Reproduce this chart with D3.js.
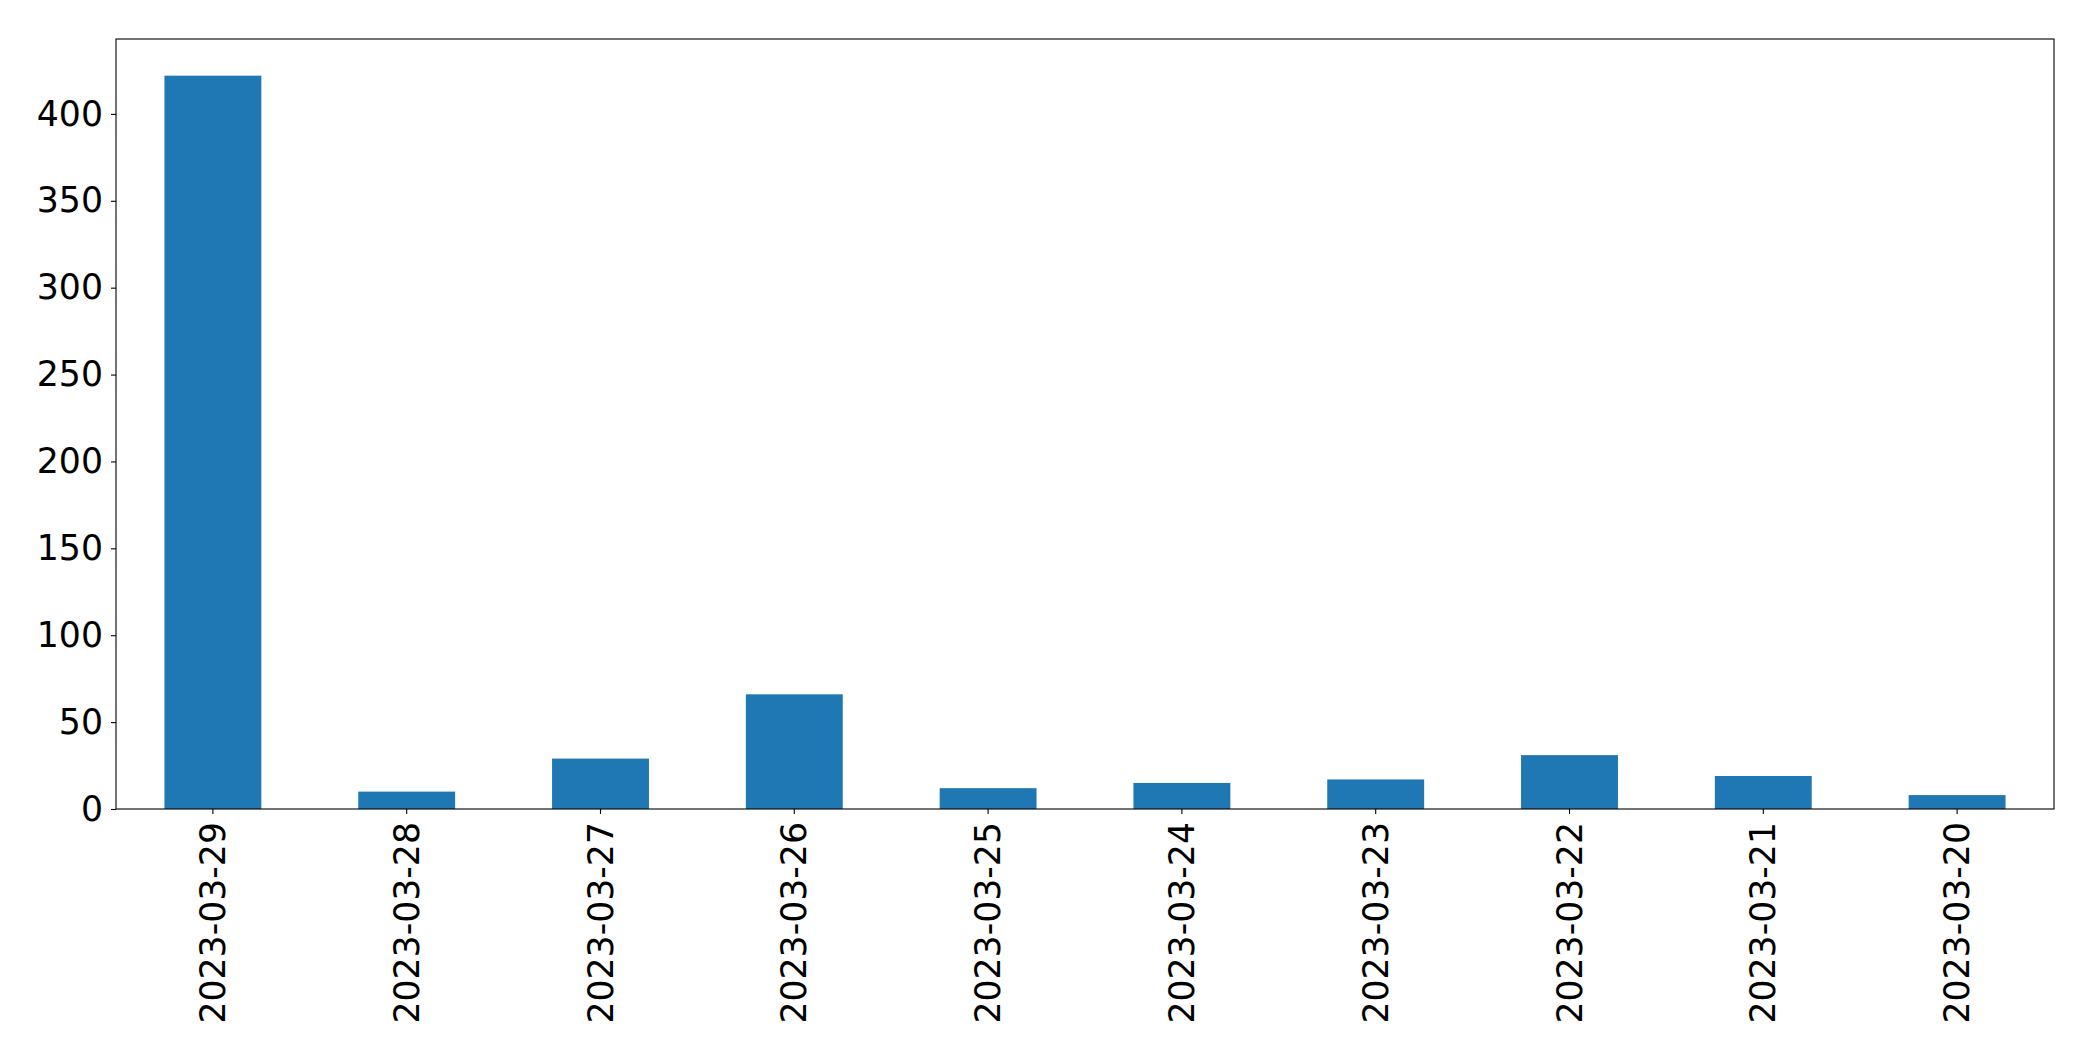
<!DOCTYPE html>
<html>
<head>
<meta charset="utf-8">
<script src="https://cdn.jsdelivr.net/npm/d3@7"></script>
<style>
  html, body { margin: 0; padding: 0; background: #fff; }
  svg { display: block; }
  .tick text { font-family: "DejaVu Sans", sans-serif; fill: #000; }
</style>
</head>
<body>
<svg id="chart" width="2093" height="1061"></svg>
<script>
const categories = ["2023-03-29","2023-03-28","2023-03-27","2023-03-26","2023-03-25","2023-03-24","2023-03-23","2023-03-22","2023-03-21","2023-03-20"];
const values = [422, 10, 29, 66, 12, 15, 17, 31, 19, 8];
const yTicks = [0, 50, 100, 150, 200, 250, 300, 350, 400];

const W = 2093, H = 1061;
const margin = {left: 116, right: W - 2054, top: 39, bottom: H - 809};
const iw = W - margin.left - margin.right;
const ih = H - margin.top - margin.bottom;
const fontSize = 34.7;

const svg = d3.select("#chart");
const g = svg.append("g").attr("transform", `translate(${margin.left},${margin.top})`);

const x = d3.scaleBand().domain(categories).range([0, iw]).paddingInner(0.5).paddingOuter(0.25);
const y = d3.scaleLinear().domain([0, d3.max(values) * 1.05]).range([ih, 0]);

g.selectAll("rect.bar").data(values).enter().append("rect")
  .attr("class", "bar")
  .attr("x", (d, i) => x(categories[i]))
  .attr("width", x.bandwidth())
  .attr("y", d => y(d))
  .attr("height", d => ih - y(d))
  .attr("fill", "#1f77b4");

const yAxis = g.append("g")
  .call(d3.axisLeft(y).tickValues(yTicks).tickSize(5).tickPadding(8).tickFormat(d3.format("d")));
yAxis.selectAll("text").style("font-size", fontSize + "px");
yAxis.select(".domain").remove();
yAxis.selectAll("line").attr("stroke", "#000").attr("stroke-width", 1.1);

const xAxis = g.append("g").attr("transform", `translate(0,${ih})`)
  .call(d3.axisBottom(x).tickSize(5).tickPadding(0));
xAxis.select(".domain").remove();
xAxis.selectAll("line").attr("stroke", "#000").attr("stroke-width", 1.1);
xAxis.selectAll("text")
  .style("font-size", fontSize + "px")
  .attr("text-anchor", "end")
  .attr("transform", "rotate(-90)")
  .attr("x", -13)
  .attr("y", 0)
  .attr("dy", "0.35em");

// frame
g.append("rect").attr("x", 0).attr("y", 0).attr("width", iw).attr("height", ih)
  .attr("fill", "none").attr("stroke", "#000").attr("stroke-width", 1.1);
</script>
</body>
</html>
